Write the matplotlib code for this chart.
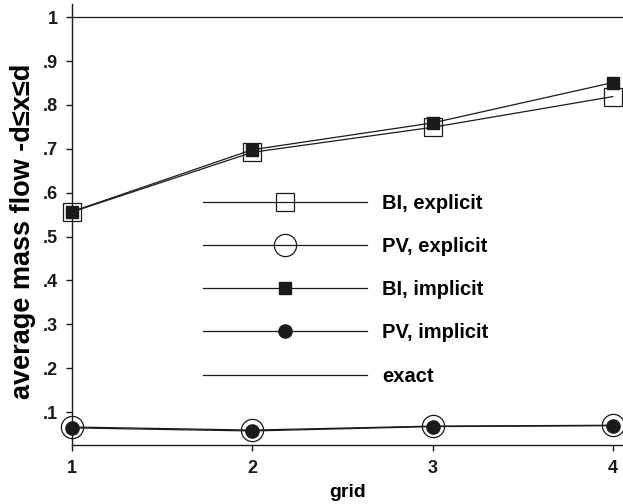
import matplotlib
matplotlib.use('Agg')
import matplotlib.pyplot as plt
import numpy as np

plt.rcParams['font.family'] = ['Liberation Sans', 'DejaVu Sans']
plt.rcParams['font.weight'] = 'bold'

grid = [1, 2, 3, 4]
bi_explicit = [0.556, 0.692, 0.749, 0.819]
pv_explicit = [0.066, 0.059, 0.068, 0.070]
bi_implicit = [0.557, 0.698, 0.759, 0.851]
pv_implicit = [0.064, 0.057, 0.067, 0.069]
exact = [1.0, 1.0, 1.0, 1.0]

yticks = [0.1, 0.2, 0.3, 0.4, 0.5, 0.6, 0.7, 0.8, 0.9, 1.0]
ytick_labels = ['.1', '.2', '.3', '.4', '.5', '.6', '.7', '.8', '.9', '1']

W, H = 623, 504
fig = plt.figure(figsize=(W / 100, H / 100), dpi=100)
ax = fig.add_axes([72 / W, 59 / H, (W - 72) / W, 441 / H])

lc = '#1a1a1a'
lw = 0.9
ax.plot(grid, bi_explicit, color=lc, lw=lw, marker='s', ms=12.5, mfc='none',
        mec=lc, mew=0.9, label='BI, explicit', clip_on=False)
ax.plot(grid, pv_explicit, color=lc, lw=lw, marker='o', ms=16, mfc='none',
        mec=lc, mew=0.9, label='PV, explicit', clip_on=False)
ax.plot(grid, bi_implicit, color=lc, lw=lw, marker='s', ms=8, mfc=lc,
        mec=lc, label='BI, implicit', clip_on=False)
ax.plot(grid, pv_implicit, color=lc, lw=lw, marker='o', ms=9.5, mfc=lc,
        mec=lc, label='PV, implicit', clip_on=False)
ax.plot([1, 4.06], [exact[0], exact[-1]], color=lc, lw=lw, label='exact')

ax.set_xlim(1, 1 + (W - 72) / 180.3)
ax.set_ylim(0.025, 1.030)
ax.set_xticks(grid)
ax.set_xticklabels([str(g) for g in grid])
ax.set_yticks(yticks)
ax.set_yticklabels(ytick_labels)

for s in ['top', 'right']:
    ax.spines[s].set_visible(False)
for s in ['left', 'bottom']:
    ax.spines[s].set_linewidth(1.0)
    ax.spines[s].set_color(lc)
ax.tick_params(direction='out', length=4, width=1, colors=lc, labelsize=13, pad=6.5)
for t in ax.get_xticklabels() + ax.get_yticklabels():
    t.set_fontweight('bold')

ax.set_xlabel('grid', fontsize=14, fontweight='bold', labelpad=5)
ax.set_ylabel('average mass flow -d≤x≤d', fontsize=19.5, fontweight='bold')
ax.yaxis.set_label_coords(-0.066, 0.485)
ax.patch.set_visible(False)

leg = ax.legend(loc='upper left', bbox_to_anchor=(203 / W, (H - 194) / H),
                bbox_transform=fig.transFigure, frameon=False,
                handlelength=8.15, handletextpad=0.75, labelspacing=1.2,
                borderpad=0, borderaxespad=0, prop={'weight': 'bold', 'size': 14.5})

fig.savefig('out.png', dpi=100)
